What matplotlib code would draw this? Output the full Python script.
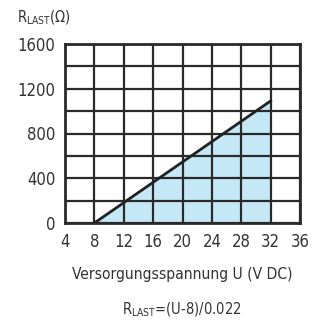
import numpy as np
import matplotlib; matplotlib.use("Agg"); import matplotlib.pyplot as plt
plt.rcParams['font.family'] = ['DejaVu Sans']
plt.rcParams['font.stretch'] = 'condensed'

# Kennlinie R_LAST = (U-8)/0.022
u = [8, 32]
r = [0, 24 / 0.022]
xticks = [4, 8, 12, 16, 20, 24, 28, 32, 36]
yticks = [0, 400, 800, 1200, 1600]

fig = plt.figure(figsize=(3.12, 3.26), dpi=100)
ax = fig.add_axes([65/312, 1-223/326, 235/312, 179/326])
ax.fill_between(u, r, 0, color='#c4e8f6', zorder=1)
ax.plot(u, r, color='#222222', lw=2, zorder=3)
ax.set_xlim(4, 36); ax.set_ylim(0, 1600)
ax.set_xticks(xticks); ax.set_yticks(yticks)
ax.set_yticks(np.arange(0, 1601, 200), minor=True)
ax.grid(which='both', color='#2a2a2a', lw=1.6, zorder=2)
ax.set_axisbelow(False)
for s in ax.spines.values(): s.set_linewidth(2); s.set_color('#2a2a2a')
ax.tick_params(which='both', length=0, labelsize=12, pad=7, colors='#333333')
ax.set_xlabel('Versorgungsspannung U (V DC)', fontsize=11.2, color='#333333', labelpad=12)
fig.text(17/312, 1-18/326, 'R$_{\\mathregular{LAST}}$(\u03a9)', fontsize=10.5, color='#333333', va='center')
fig.text(182/312, 1-310/326, 'R$_{\\mathregular{LAST}}$=(U-8)/0.022', fontsize=10.5, color='#333333', ha='center', va='center')
fig.savefig('out.png', dpi=100)
